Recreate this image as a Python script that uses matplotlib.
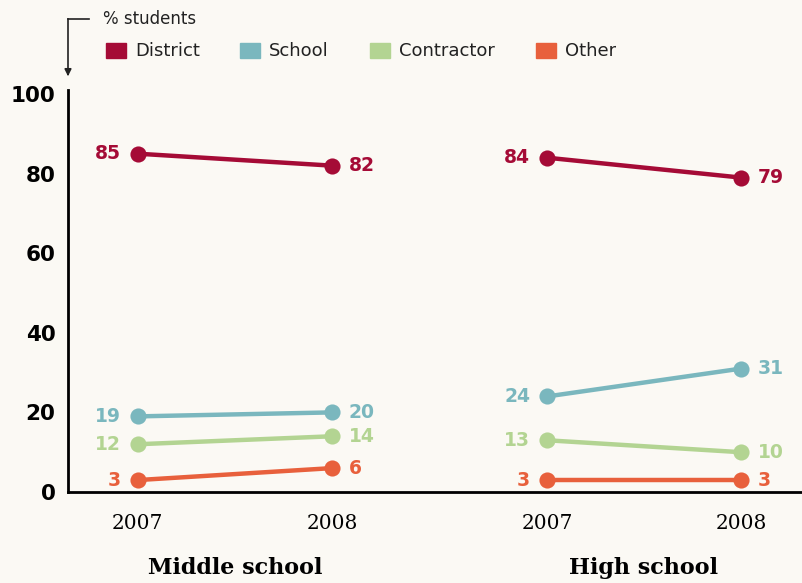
import matplotlib
matplotlib.use("Agg")
import matplotlib.pyplot as plt

groups = ["Middle school", "High school"]
years = ["2007", "2008"]
series = ["District", "School", "Contractor", "Other"]
values = {
    "District":   [[85, 82], [84, 79]],
    "School":     [[19, 20], [24, 31]],
    "Contractor": [[12, 14], [13, 10]],
    "Other":      [[3, 6], [3, 3]],
}
colors = {"District": "#A50B36", "School": "#7AB7BE", "Contractor": "#B3D492", "Other": "#E8603C"}
yticks = [0, 20, 40, 60, 80, 100]

bg = "#FBF9F4"
W, H = 803, 583
fig = plt.figure(figsize=(W/100, H/100), dpi=100, facecolor=bg)
ax = fig.add_axes([68/W, 1-492/H, 1-68/W, (492-94)/H])
ax.set_facecolor(bg)

group_gap = 2.108
for s in series:
    for g in range(len(groups)):
        xs = [g*group_gap + i for i in range(len(years))]
        ys = values[s][g]
        ax.plot(xs, ys, color=colors[s], lw=3.2, solid_capstyle="round", zorder=3)
        ax.scatter(xs, ys, s=135, color=colors[s], zorder=4, linewidths=0)
        ax.annotate(str(ys[0]), (xs[0], ys[0]), xytext=(-12, 0), textcoords="offset points",
                    ha="right", va="center", color=colors[s], fontsize=13.5, fontweight="bold",
                    family="DejaVu Sans")
        ax.annotate(str(ys[1]), (xs[1], ys[1]), xytext=(12, 0), textcoords="offset points",
                    ha="left", va="center", color=colors[s], fontsize=13.5, fontweight="bold",
                    family="DejaVu Sans")

ax.set_xlim(-0.36, 3.428)
ax.set_ylim(0, 100)
ax.set_yticks(yticks)
ax.set_yticklabels([str(t) for t in yticks], fontsize=15.5, fontweight="heavy", family="DejaVu Sans")
ax.tick_params(axis="y", length=0, pad=9)
xt, xl = [], []
for g in range(len(groups)):
    for i, yr in enumerate(years):
        xt.append(g*group_gap + i)
        xl.append(yr)
ax.set_xticks(xt)
ax.set_xticklabels(xl, fontsize=14.5, family="DejaVu Serif")
ax.tick_params(axis="x", length=0, pad=16)
for sp in ["top", "right"]:
    ax.spines[sp].set_visible(False)
ax.spines["left"].set_linewidth(2)
ax.spines["bottom"].set_linewidth(2)
ax.spines["left"].set_bounds(0, 101)
ax.spines["left"].set_clip_on(False)

for g, name in enumerate(groups):
    xc = g*group_gap + 0.5
    ax.annotate(name, (xc, 0), xytext=(0, -55), textcoords="offset points", ha="center", va="center",
                fontsize=16, fontweight="bold", family="DejaVu Serif", annotation_clip=False)

# legend header and arrow
fig.text(103/W, 1-19/H, "% students", fontsize=12, va="center", ha="left", family="DejaVu Sans", color="#222222")
fig.add_artist(plt.Line2D([68/W, 89/W], [1-19/H, 1-19/H], color="#222222", lw=1.2, transform=fig.transFigure))
fig.add_artist(plt.Line2D([68/W, 68/W], [1-19/H, 1-72/H], color="#222222", lw=1.2, transform=fig.transFigure))
ax.annotate("", xy=(68/W, 1-79/H), xytext=(68/W, 1-70/H), xycoords="figure fraction",
            arrowprops=dict(arrowstyle="-|>", color="#222222", lw=1.2, mutation_scale=10))

leg_x = [106, 240, 370, 536]
for s, lx in zip(series, leg_x):
    fig.patches.append(plt.Rectangle((lx/W, 1-58/H), 20/W, 15/H, color=colors[s], transform=fig.transFigure))
    fig.text((lx+29)/W, 1-51/H, s, fontsize=13, va="center", ha="left", family="DejaVu Sans", color="#222222")

fig.savefig("out.png", dpi=100, facecolor=bg)
